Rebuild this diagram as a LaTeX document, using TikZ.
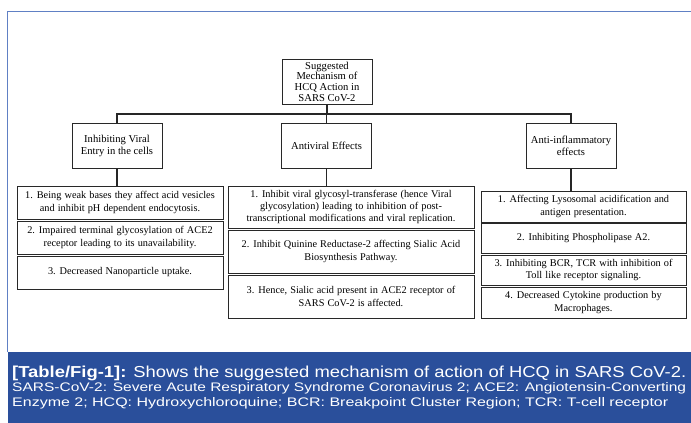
\documentclass[tikz,border=0pt]{standalone}
\usepackage{fontspec}
\setmainfont{Liberation Serif}
\newfontfamily\capfont{Liberation Sans}
\definecolor{bandblue}{RGB}{42,79,155}
\definecolor{framblue}{RGB}{96,128,196}
\definecolor{boxgray}{RGB}{40,40,40}
\newcommand\listfont{\fontsize{10.3}{12.3}\selectfont\spaceskip=0.3em plus 0.1em\relax}
\begin{document}
\begin{tikzpicture}[x=1pt,y=-1pt,
  hbox/.style={draw=boxgray,line width=1pt,align=center,inner sep=1pt,font=\fontsize{10.6}{12}\selectfont},
  lbox/.style={draw=boxgray,line width=1pt,align=center,inner sep=1pt,font=\listfont},
  conn/.style={draw=black!85,line width=1.5pt},
  captxt/.style={anchor=base west,inner sep=0pt,text=white}]
\useasboundingbox (0,0) rectangle (691,423);
% frame
\fill[bandblue] (7.5,352) rectangle (691,423);
\draw[framblue,line width=1pt] (7.5,352) -- (7.5,11) -- (691,11);
% headers
\node[hbox,minimum width=90pt,minimum height=45pt,font=\fontsize{10.6}{10.7}\selectfont] (top) at (327,81.5) {Suggested\\Mechanism of\\HCQ Action in\\SARS CoV-2};
\node[hbox,minimum width=90pt,minimum height=45pt] (b1) at (117,145.5) {Inhibiting Viral\\Entry in the cells};
\node[hbox,minimum width=90pt,minimum height=45pt] (b2) at (326.5,145.5) {Antiviral Effects};
\node[hbox,minimum width=90pt,minimum height=45pt] (b3) at (571,145.5) {Anti-inflammatory\\effects};
% left list
\node[lbox,minimum width=206pt,minimum height=33pt] (l1) at (120,202.5) {1. Being weak bases they affect acid vesicles\\and inhibit pH dependent endocytosis.};
\node[lbox,minimum width=206pt,minimum height=33pt] (l2) at (120,237.5) {2. Impaired terminal glycosylation of ACE2\\receptor leading to its unavailability.};
\node[lbox,minimum width=206pt,minimum height=33pt] (l3) at (120,272.5) {3. Decreased Nanoparticle uptake.};
% middle list
\node[lbox,minimum width=246pt,minimum height=42pt] (m1) at (351,207) {1. Inhibit viral glycosyl-transferase (hence Viral\\glycosylation) leading to inhibition of post-\\transcriptional modifications and viral replication.};
\node[lbox,minimum width=246pt,minimum height=43pt] (m2) at (351,251.5) {2. Inhibit Quinine Reductase-2 affecting Sialic Acid\\Biosynthesis Pathway.};
\node[lbox,minimum width=246pt,minimum height=43pt] (m3) at (351,296.5) {3. Hence, Sialic acid present in ACE2 receptor of\\SARS CoV-2 is affected.};
% right list
\node[lbox,minimum width=205pt,minimum height=31pt] (r1) at (583.5,206.5) {1. Affecting Lysosomal acidification and\\antigen presentation.};
\node[lbox,minimum width=205pt,minimum height=30pt] (r2) at (583.5,238) {2. Inhibiting Phospholipase A2.};
\node[lbox,minimum width=205pt,minimum height=30pt] (r3) at (583.5,270) {3. Inhibiting BCR, TCR with inhibition of\\Toll like receptor signaling.};
\node[lbox,minimum width=205pt,minimum height=31pt] (r4) at (583.5,302.5) {4. Decreased Cytokine production by\\Macrophages.};
% connectors
\coordinate (bus) at (0,114);
\draw[conn] (top.south) -- (top.south |- bus);
\draw[conn] (b1.north) -- (b1.north |- bus) -- (b3.north |- bus) -- (b3.north);
\draw[conn] (b2.north) -- (b2.north |- bus);
\draw[conn] (b1.south) -- (b1.south |- l1.north);
\draw[conn] (b2.south) -- (b2.south |- m1.north);
\draw[conn] (b3.south) -- (b3.south |- r1.north);
% caption
\node[captxt] (cap1) at (12,377) {\resizebox{674pt}{11.5pt}{\capfont\fontsize{14}{16}\selectfont\textbf{[Table/Fig-1]:} Shows the suggested mechanism of action of HCQ in SARS CoV-2.}};
\node[captxt] (cap2) at (12,391.5) {\resizebox{674pt}{9pt}{\capfont\fontsize{11}{13}\selectfont SARS-CoV-2: Severe Acute Respiratory Syndrome Coronavirus 2; ACE2: Angiotensin-Converting}};
\node[captxt] (cap3) at (12,406) {\resizebox{656pt}{9pt}{\capfont\fontsize{11}{13}\selectfont Enzyme 2; HCQ: Hydroxychloroquine; BCR: Breakpoint Cluster Region; TCR: T-cell receptor}};
\end{tikzpicture}
\end{document}
